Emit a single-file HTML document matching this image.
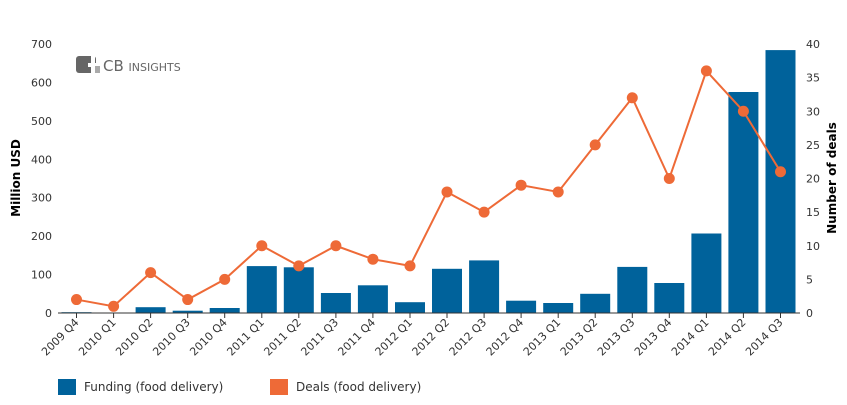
<!DOCTYPE html>
<html><head><style>body{margin:0;background:#fff}svg{display:block}text{font-family:"DejaVu Sans",Verdana,sans-serif;fill:#333;font-size:11px}</style></head><body>
<svg width="847" height="405" xmlns="http://www.w3.org/2000/svg">
<g text-anchor="end">
<text x="52" y="317">0</text><text x="52" y="278.6">100</text><text x="52" y="240.1">200</text><text x="52" y="201.7">300</text><text x="52" y="163.3">400</text><text x="52" y="124.9">500</text><text x="52" y="86.4">600</text><text x="52" y="48">700</text>
</g>
<g>
<text x="806" y="317">0</text><text x="806" y="283.4">5</text><text x="806" y="249.8">10</text><text x="806" y="216.1">15</text><text x="806" y="182.5">20</text><text x="806" y="148.9">25</text><text x="806" y="115.3">30</text><text x="806" y="81.6">35</text><text x="806" y="48">40</text>
</g>
<g fill="#00629b">
<rect x="61.5" y="312.2" width="30" height="0.8"/>
<rect x="98.6" y="312.6" width="30" height="0.4"/>
<rect x="135.6" y="307.2" width="30" height="5.8"/>
<rect x="172.7" y="310.7" width="30" height="2.3"/>
<rect x="209.7" y="308" width="30" height="5"/>
<rect x="246.8" y="266.1" width="30" height="46.9"/>
<rect x="283.8" y="267.3" width="30" height="45.7"/>
<rect x="320.9" y="293" width="30" height="20"/>
<rect x="357.9" y="285.3" width="30" height="27.7"/>
<rect x="395" y="302.2" width="30" height="10.8"/>
<rect x="432" y="268.8" width="30" height="44.2"/>
<rect x="469.1" y="260.4" width="30" height="52.6"/>
<rect x="506.1" y="300.7" width="30" height="12.3"/>
<rect x="543.2" y="303" width="30" height="10"/>
<rect x="580.2" y="293.8" width="30" height="19.2"/>
<rect x="617.3" y="266.9" width="30" height="46.1"/>
<rect x="654.3" y="283" width="30" height="30"/>
<rect x="691.4" y="233.5" width="30" height="79.5"/>
<rect x="728.4" y="92" width="30" height="221"/>
<rect x="765.5" y="50.1" width="30" height="262.9"/>
</g>
<polyline fill="none" stroke="#ee6a37" stroke-width="2" points="76.5,299.55 113.6,306.3 150.6,272.65 187.7,299.55 224.7,279.4 261.8,245.75 298.8,265.9 335.9,245.75 372.9,259.2 410,265.9 447,191.95 484.1,212.1 521.1,185.2 558.2,191.95 595.2,144.9 632.3,97.8 669.3,178.5 706.4,70.9 743.4,111.25 780.5,171.75"/>
<g fill="#ee6a37">
<circle cx="76.5" cy="299.55" r="5.5"/><circle cx="113.6" cy="306.3" r="5.5"/><circle cx="150.6" cy="272.65" r="5.5"/><circle cx="187.7" cy="299.55" r="5.5"/><circle cx="224.7" cy="279.4" r="5.5"/><circle cx="261.8" cy="245.75" r="5.5"/><circle cx="298.8" cy="265.9" r="5.5"/><circle cx="335.9" cy="245.75" r="5.5"/><circle cx="372.9" cy="259.2" r="5.5"/><circle cx="410" cy="265.9" r="5.5"/><circle cx="447" cy="191.95" r="5.5"/><circle cx="484.1" cy="212.1" r="5.5"/><circle cx="521.1" cy="185.2" r="5.5"/><circle cx="558.2" cy="191.95" r="5.5"/><circle cx="595.2" cy="144.9" r="5.5"/><circle cx="632.3" cy="97.8" r="5.5"/><circle cx="669.3" cy="178.5" r="5.5"/><circle cx="706.4" cy="70.9" r="5.5"/><circle cx="743.4" cy="111.25" r="5.5"/><circle cx="780.5" cy="171.75" r="5.5"/>
</g>
<line x1="58" y1="313" x2="800" y2="313" stroke="#333"/>
<g stroke="#333">
<line x1="76.5" y1="313" x2="76.5" y2="318"/><line x1="113.6" y1="313" x2="113.6" y2="318"/><line x1="150.6" y1="313" x2="150.6" y2="318"/><line x1="187.7" y1="313" x2="187.7" y2="318"/><line x1="224.7" y1="313" x2="224.7" y2="318"/><line x1="261.8" y1="313" x2="261.8" y2="318"/><line x1="298.8" y1="313" x2="298.8" y2="318"/><line x1="335.9" y1="313" x2="335.9" y2="318"/><line x1="372.9" y1="313" x2="372.9" y2="318"/><line x1="410" y1="313" x2="410" y2="318"/><line x1="447" y1="313" x2="447" y2="318"/><line x1="484.1" y1="313" x2="484.1" y2="318"/><line x1="521.1" y1="313" x2="521.1" y2="318"/><line x1="558.2" y1="313" x2="558.2" y2="318"/><line x1="595.2" y1="313" x2="595.2" y2="318"/><line x1="632.3" y1="313" x2="632.3" y2="318"/><line x1="669.3" y1="313" x2="669.3" y2="318"/><line x1="706.4" y1="313" x2="706.4" y2="318"/><line x1="743.4" y1="313" x2="743.4" y2="318"/><line x1="780.5" y1="313" x2="780.5" y2="318"/>
</g>
<g text-anchor="end">
<text transform="translate(79.5,323) rotate(-45)">2009 Q4</text>
<text transform="translate(116.6,323) rotate(-45)">2010 Q1</text>
<text transform="translate(153.6,323) rotate(-45)">2010 Q2</text>
<text transform="translate(190.7,323) rotate(-45)">2010 Q3</text>
<text transform="translate(227.7,323) rotate(-45)">2010 Q4</text>
<text transform="translate(264.8,323) rotate(-45)">2011 Q1</text>
<text transform="translate(301.8,323) rotate(-45)">2011 Q2</text>
<text transform="translate(338.9,323) rotate(-45)">2011 Q3</text>
<text transform="translate(375.9,323) rotate(-45)">2011 Q4</text>
<text transform="translate(413,323) rotate(-45)">2012 Q1</text>
<text transform="translate(450,323) rotate(-45)">2012 Q2</text>
<text transform="translate(487.1,323) rotate(-45)">2012 Q3</text>
<text transform="translate(524.1,323) rotate(-45)">2012 Q4</text>
<text transform="translate(561.2,323) rotate(-45)">2013 Q1</text>
<text transform="translate(598.2,323) rotate(-45)">2013 Q2</text>
<text transform="translate(635.3,323) rotate(-45)">2013 Q3</text>
<text transform="translate(672.3,323) rotate(-45)">2013 Q4</text>
<text transform="translate(709.4,323) rotate(-45)">2014 Q1</text>
<text transform="translate(746.4,323) rotate(-45)">2014 Q2</text>
<text transform="translate(783.5,323) rotate(-45)">2014 Q3</text>
</g>
<text transform="translate(20,178) rotate(-90)" text-anchor="middle" style="font-weight:bold;font-size:12px;fill:#000">Million USD</text>
<text transform="translate(836,178) rotate(-90)" text-anchor="middle" style="font-weight:bold;font-size:12px;fill:#000">Number of deals</text>
<rect x="76" y="56" width="20" height="17" rx="3" fill="#666"/><rect x="88" y="63" width="11" height="4" fill="#fff"/><rect x="91" y="56" width="4" height="17" fill="#fff"/><rect x="95" y="66" width="5" height="7" fill="#aaa"/>
<text x="103" y="71" style="font-size:15px;fill:#666">CB <tspan style="font-size:11px">INSIGHTS</tspan></text>
<rect x="58" y="379" width="18" height="16" fill="#00629b"/><text x="84" y="391" style="font-size:12px">Funding (food delivery)</text>
<rect x="270" y="379" width="18" height="16" fill="#ee6a37"/><text x="296" y="391" style="font-size:12px">Deals (food delivery)</text>
</svg></body></html>
